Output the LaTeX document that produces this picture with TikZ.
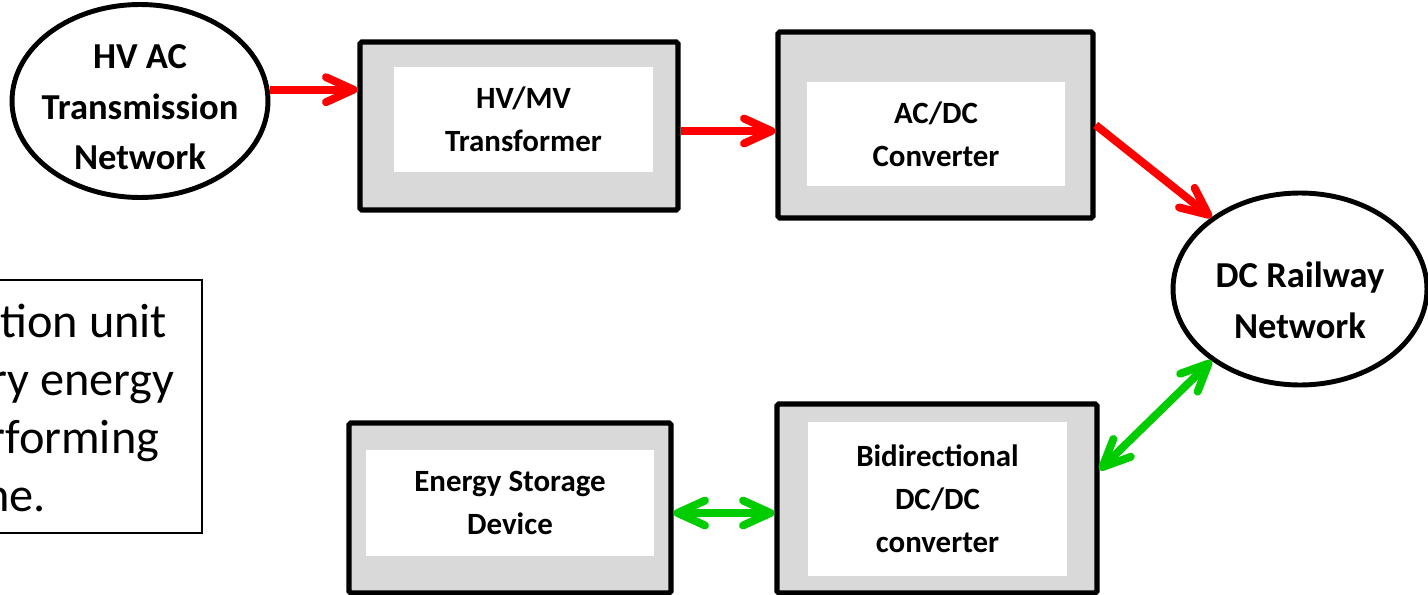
\documentclass[tikz,border=0pt]{standalone}
\usepackage{fontspec}
\setmainfont{Carlito}
\usepackage{tikz}
\usetikzlibrary{arrows.meta,positioning,shapes.geometric}
\definecolor{BoxGray}{RGB}{217,217,217}
\definecolor{FlowRed}{RGB}{255,0,0}
\definecolor{FlowGreen}{RGB}{0,204,0}

\begin{document}
\begin{tikzpicture}[x=0.02cm,y=-0.02cm,
  netw/.style={draw,ellipse,line width=2.8pt,inner sep=-8pt,align=center,font=\fontsize{20.8}{28.8}\selectfont\bfseries},
  unitbox/.style={draw,fill=BoxGray,line width=3pt,rounded corners=1pt,inner sep=0pt},
  unitlabel/.style={fill=white,inner sep=0pt,align=center,font=\fontsize{17.6}{24.5}\selectfont\bfseries},
  redflow/.style={draw=FlowRed,line width=4.5pt,-{Straight Barb[round,length=0.55cm,width=0.5cm]}},
  greenflow/.style={draw=FlowGreen,line width=4.5pt,{Straight Barb[round,length=0.55cm,width=0.5cm]}-{Straight Barb[round,length=0.55cm,width=0.5cm]}}]
\useasboundingbox (0,0) rectangle (1428,595);

\node[netw,minimum width=5.12cm,minimum height=3.86cm] (hvac) at (140,101) {\rule{0pt}{20.7pt}HV AC\\Transmission\\Network};

\node[unitbox,minimum width=6.36cm,minimum height=3.36cm] (xfmr) at (519,126) {};
\node[unitlabel,minimum width=5.18cm,minimum height=2.1cm] (xfmrtext) at (523.5,119.5) {HV/MV\\Transformer};

\node[unitbox,minimum width=6.3cm,minimum height=3.72cm] (acdc) at (935.5,125) {};
\node[unitlabel,minimum width=5.16cm,minimum height=2.08cm] (acdctext) at (936,134) {AC/DC\\Converter};

\node[netw,minimum width=5.08cm,minimum height=3.84cm] (dcnet) at (1300,289) {\rule{0pt}{27.3pt}DC Railway\\Network};

\node[unitbox,minimum width=6.4cm,minimum height=3.78cm] (bidir) at (937,498.5) {};
\node[unitlabel,minimum width=5.18cm,minimum height=3.08cm] (bidirtext) at (937.5,499) {Bidirectional\\DC/DC\\converter};

\node[unitbox,minimum width=6.44cm,minimum height=3.4cm] (storage) at (510,508) {};
\node[unitlabel,minimum width=5.76cm,minimum height=2.12cm] (storagetext) at (510,503) {Energy Storage\\Device};

% note box, cut by the left edge
\node[draw,line width=0.8pt,minimum width=6cm,minimum height=5.06cm,inner sep=0pt] (note) at (52,406.5) {};
\node[anchor=west,align=left,inner sep=0pt,font=\fontsize{27.5}{33}\selectfont] (notetext) at (0,408) {tion unit\\\hspace*{-5.7pt}ry energy\\\hspace*{-6.8pt}rforming\\\hspace*{-9pt}ne.};

\draw[redflow] (hvac.5) -- (hvac.5 -| xfmr.west);
\draw[redflow] ([yshift=-0.1cm]xfmr.east) -- ([yshift=-0.1cm]xfmr.east -| acdc.west);
\draw[redflow] (acdc.east) -- (dcnet.141);
\draw[greenflow] (dcnet.219) -- (bidir.10);
\draw[greenflow] ([yshift=-0.1cm]storage.east) -- ([yshift=-0.1cm]storage.east -| bidir.west);
\end{tikzpicture}
\end{document}
